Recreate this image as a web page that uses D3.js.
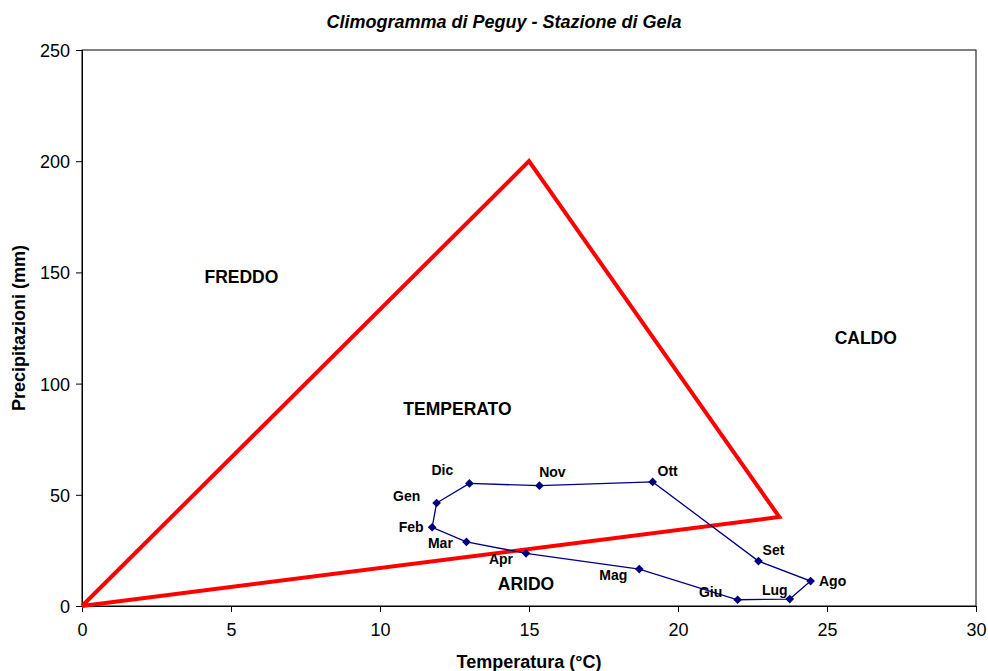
<!DOCTYPE html>
<html>
<head>
<meta charset="utf-8">
<script src="https://cdn.jsdelivr.net/npm/d3@7"></script>
<style>
  body { margin: 0; background: #fff; }
  text { font-family: "Liberation Sans", Arial, sans-serif; }
</style>
</head>
<body>
<svg width="988" height="671"></svg>
<script>
// monthly data, Gela station
var months = ["Gen","Feb","Mar","Apr","Mag","Giu","Lug","Ago","Set","Ott","Nov","Dic"];
var temps  = [11.9, 11.75, 12.9, 14.9, 18.7, 22.0, 23.75, 24.45, 22.7, 19.15, 15.35, 13.0];
var precip = [46.3, 35.4, 28.8, 23.7, 16.6, 2.8, 3.1, 11.2, 20.2, 55.8, 54.1, 55.1];

// Peguy triangle vertices (temp, precip)
var triTemp   = [0, 15, 23.4, 0];
var triPrecip = [0, 200, 40, 0];

// zone names
var zones = ["FREDDO", "TEMPERATO", "CALDO", "ARIDO"];
var zoneTemp   = [5.35, 12.6, 26.3, 14.9];
var zonePrecip = [148, 88.5, 120.5, 10];

var xTicks = [0, 5, 10, 15, 20, 25, 30];
var yTicks = [0, 50, 100, 150, 200, 250];

var svg = d3.select("svg"),
    margin = {top: 50, right: 12, bottom: 65, left: 82},
    width = +svg.attr("width") - margin.left - margin.right,
    height = +svg.attr("height") - margin.top - margin.bottom;

var x = d3.scaleLinear().domain([0, 30]).range([0, width]);
var y = d3.scaleLinear().domain([0, 250]).range([height, 0]);

var g = svg.append("g")
    .attr("transform", "translate(" + margin.left + "," + margin.top + ")");

// frame
g.append("rect")
    .attr("width", width)
    .attr("height", height)
    .attr("fill", "none")
    .attr("stroke", "#000")
    .attr("stroke-width", 1);

var xAxis = g.append("g")
    .attr("transform", "translate(0," + height + ")")
    .call(d3.axisBottom(x).tickValues(xTicks).tickSize(6).tickPadding(11));
var yAxis = g.append("g")
    .call(d3.axisLeft(y).tickValues(yTicks).tickSize(6).tickPadding(6));

[xAxis, yAxis].forEach(function(a) {
  a.select(".domain").attr("stroke", "#000");
  a.selectAll("line").attr("stroke", "#000");
  a.selectAll("text")
    .attr("fill", "#000")
    .style("font-size", "18px")
    .style("font-family", "'Liberation Sans', Arial, sans-serif");
});
yAxis.selectAll("text").attr("dy", "0.36em");

// triangle
var tri = triTemp.map(function(t, i) { return [t, triPrecip[i]]; });
g.append("path")
    .datum(tri)
    .attr("fill", "none")
    .attr("stroke", "#ff0000")
    .attr("stroke-width", 4)
    .attr("stroke-linejoin", "miter")
    .attr("d", d3.line()
        .x(function(d) { return x(d[0]); })
        .y(function(d) { return y(d[1]); }));

// zone labels
g.selectAll(".zone")
    .data(zones)
    .enter().append("text")
    .attr("class", "zone")
    .attr("x", function(d, i) { return x(zoneTemp[i]); })
    .attr("y", function(d, i) { return y(zonePrecip[i]); })
    .attr("text-anchor", "middle")
    .attr("dy", "0.36em")
    .style("font-size", "17.5px")
    .style("font-weight", "bold")
    .text(function(d) { return d; });

// climogram line (closed loop)
var pts = months.map(function(m, i) { return {m: m, t: temps[i], p: precip[i]}; });
g.append("path")
    .datum(pts.concat([pts[0]]))
    .attr("fill", "none")
    .attr("stroke", "#000080")
    .attr("stroke-width", 1.3)
    .attr("d", d3.line()
        .x(function(d) { return x(d.t); })
        .y(function(d) { return y(d.p); }));

g.selectAll(".pt")
    .data(pts)
    .enter().append("path")
    .attr("class", "pt")
    .attr("transform", function(d) { return "translate(" + x(d.t) + "," + y(d.p) + ")"; })
    .attr("d", d3.symbol().type(d3.symbolDiamond2).size(48))
    .attr("fill", "#000080");

// month label placement relative to the marker
var offs = {
  Gen: [-30, -7], Feb: [-21, 0], Mar: [-26, 1], Apr: [-25, 6],
  Mag: [-26, 6], Giu: [-27, -8], Lug: [-15, -9], Ago: [22, 0],
  Set: [15, -11], Ott: [15, -11], Nov: [13, -14], Dic: [-27, -13]
};
g.selectAll(".lbl")
    .data(pts)
    .enter().append("text")
    .attr("class", "lbl")
    .attr("x", function(d) { return x(d.t) + offs[d.m][0]; })
    .attr("y", function(d) { return y(d.p) + offs[d.m][1]; })
    .attr("text-anchor", "middle")
    .attr("dy", "0.36em")
    .style("font-size", "14px")
    .style("font-weight", "bold")
    .text(function(d) { return d.m; });

// title and axis titles
svg.append("text")
    .attr("x", 504)
    .attr("y", 28)
    .attr("text-anchor", "middle")
    .style("font-size", "18px")
    .style("font-weight", "bold")
    .style("font-style", "italic")
    .text("Climogramma di Peguy - Stazione di Gela");

svg.append("text")
    .attr("x", margin.left + width / 2)
    .attr("y", 668)
    .attr("text-anchor", "middle")
    .style("font-size", "18px")
    .style("font-weight", "bold")
    .text("Temperatura (°C)");

svg.append("text")
    .attr("transform", "translate(25," + (margin.top + height / 2) + ") rotate(-90)")
    .attr("text-anchor", "middle")
    .style("font-size", "18px")
    .style("font-weight", "bold")
    .text("Precipitazioni (mm)");
</script>
</body>
</html>
